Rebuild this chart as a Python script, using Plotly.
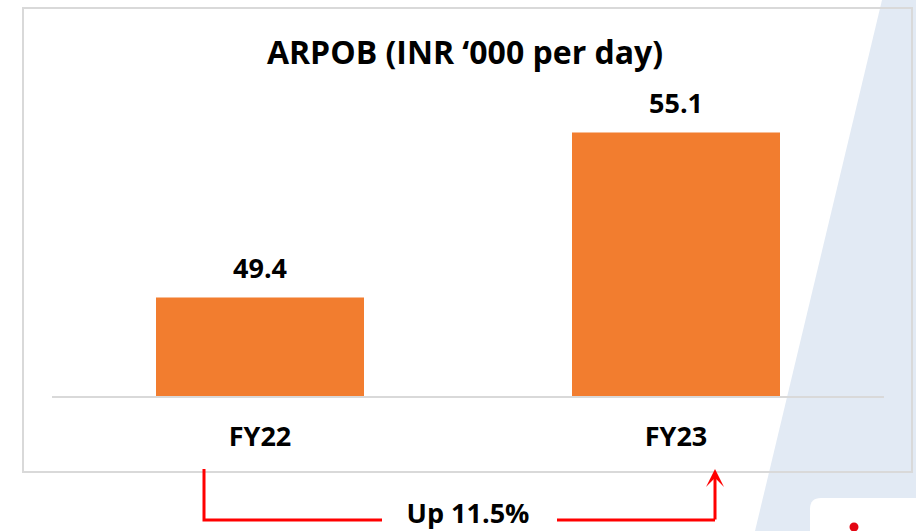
import plotly.graph_objects as go

W, H = 916, 531

years = ["FY22", "FY23"]
arpob = [49.4, 55.1]
value_labels = ["49.4", "55.1"]
growth_label = "Up 11.5%"

FONT = "Open Sans"
ORANGE = "#F27D2F"
GREY = "#D9D9D9"
RED = "#FF0000"


def px(x):
    return x / W


def py(y):
    return 1 - y / H


fig = go.Figure()

fig.add_trace(go.Bar(
    x=years, y=arpob,
    marker=dict(color=ORANGE, line=dict(width=0)),
    width=0.5, hoverinfo="x+y",
))

# value labels just above each bar
for yr, v, lab in zip(years, arpob, value_labels):
    fig.add_annotation(x=yr, y=v, text=f"<b>{lab}</b>", showarrow=False,
                       yanchor="bottom", yshift=10,
                       font=dict(family=FONT, size=27, color="#000000"))

shapes = [
    # light blue diagonal band in the background
    dict(type="path", xref="paper", yref="paper", layer="below",
         path=f"M{px(882)},{py(0)} L{px(916)},{py(0)} L{px(916)},{py(531)} L{px(755)},{py(531)} Z",
         fillcolor="#E2EAF4", line=dict(width=0)),
    # chart frame
    dict(type="rect", xref="paper", yref="paper", layer="below",
         x0=px(23), x1=px(912), y0=py(472), y1=py(8),
         line=dict(color=GREY, width=2), fillcolor="rgba(0,0,0,0)"),
    # white corner card with red dot
    dict(type="path", xref="paper", yref="paper", layer="above",
         path=(f"M{px(810)},{py(531)} L{px(810)},{py(509)} "
               f"Q{px(810)},{py(498)} {px(821)},{py(498)} "
               f"L{px(916)},{py(498)} L{px(916)},{py(531)} Z"),
         fillcolor="#FFFFFF", line=dict(width=0)),
    dict(type="circle", xref="paper", yref="paper",
         x0=px(849.5), x1=px(858.5), y0=py(531.5), y1=py(522.5),
         fillcolor="#E30613", line=dict(width=0)),
    # red connector, left part
    dict(type="path", xref="paper", yref="paper",
         path=f"M{px(204)},{py(469)} L{px(204)},{py(520)} L{px(382)},{py(520)}",
         line=dict(color=RED, width=3)),
    # red connector, right horizontal part
    dict(type="line", xref="paper", yref="paper",
         x0=px(557), x1=px(715), y0=py(520), y1=py(520),
         line=dict(color=RED, width=3)),
]

# arrow going up to FY23
fig.add_annotation(x=px(715), y=py(469), xref="paper", yref="paper",
                   ax=0, ay=52, text="", showarrow=True, arrowhead=3,
                   arrowsize=1, arrowwidth=3, arrowcolor=RED)

fig.update_layout(
    width=W, height=H,
    margin=dict(l=0, r=0, t=0, b=0),
    paper_bgcolor="#FFFFFF", plot_bgcolor="rgba(0,0,0,0)",
    title=dict(text="<b>ARPOB (INR ‘000 per day)</b>", x=px(465), xanchor="center",
               y=py(53), yanchor="middle",
               font=dict(family=FONT, size=32, color="#000000")),
    showlegend=False,
    bargap=0.5,
    shapes=shapes,
    xaxis=dict(domain=[px(52), px(884)], showline=True, linecolor=GREY, linewidth=2,
               ticks="", showgrid=False, zeroline=False, ticklabelstandoff=16,
               tickfont=dict(family=FONT, size=27, color="#000000"),
               tickvals=years, ticktext=[f"<b>{y}</b>" for y in years],
               title=dict(text=f"<b>{growth_label}</b>", standoff=58,
                          font=dict(family=FONT, size=27, color="#000000"))),
    yaxis=dict(domain=[py(396), py(100)], range=[46, 46 + 296 / 28.95],
               visible=False, showgrid=False, zeroline=False),
)

fig.write_html("out.html", config={"displayModeBar": False},
               post_script="document.body.style.margin='0';")
